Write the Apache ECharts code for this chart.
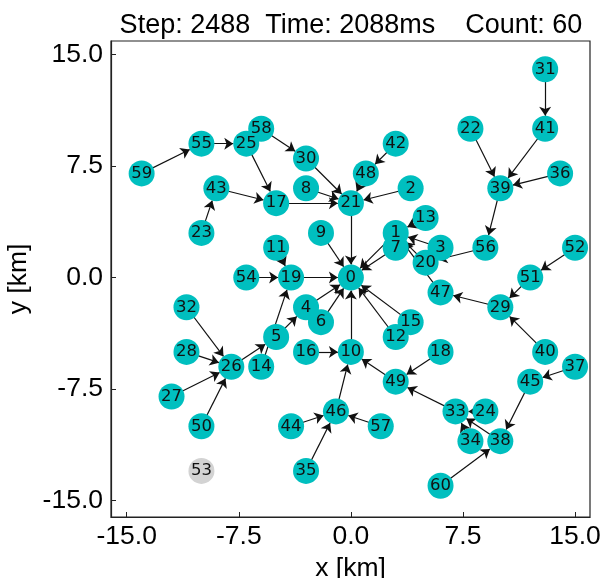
<!DOCTYPE html>
<html>
<head>
<meta charset="utf-8">
<script src="https://cdn.jsdelivr.net/npm/echarts@6/dist/echarts.min.js"></script>
<style>html,body{margin:0;padding:0;background:#fff}#c{width:603px;height:578px}</style>
</head>
<body>
<div id="c"></div>
<script>
// Node ids and positions (km)
const nodeIds = [0,1,2,3,4,5,6,7,8,9,10,11,13,14,15,12,16,17,18,19,20,21,22,23,24,26,27,28,29,30,31,32,33,34,35,36,37,38,39,40,41,42,43,44,45,46,47,48,49,50,51,52,53,54,55,56,57,58,25,59,60];
const nodeX   = [0,3,4,6,-3,-5,-2,3,-3,-2,0,-5,5,-6,4,3,-3,-5,6,-4,5,0,8,-10,9,-8,-12,-11,10,-3,13,-11,7,8,-3,14,15,10,10,13,13,3,-9,-4,12,-1,6,1,3,-10,12,15,-10,-7,-10,9,2,-6,-7,-14,6];
const nodeY   = [0,3,6,2,-2,-4,-3,2,6,3,-5,2,4,-6,-3,-4,-5,5,-5,0,1,5,10,3,-9,-6,-8,-5,-2,8,14,-2,-9,-11,-13,7,-6,-11,6,-5,10,9,6,-10,-7,-9,-1,7,-7,-10,0,2,-13,0,9,2,-10,10,9,7,-14];
const inactiveNodes = [53];
// Directed edges
const edgeSources = [59,55,25,58,30,8,43,23,17,21,48,42,2,9,11,54,19,31,41,22,36,39,56,13,3,20,47,1,7,52,51,29,40,37,45,60,38,34,24,33,18,49,10,16,46,44,35,57,15,12,4,6,5,14,26,32,28,27,50];
const edgeTargets = [55,25,17,30,21,21,17,43,21,0,21,48,21,0,19,19,0,41,39,39,39,56,20,1,1,1,1,0,0,51,29,47,29,45,38,38,33,33,33,49,49,10,0,10,10,46,46,46,0,0,0,0,4,19,5,26,26,26,26];
// Axis
const tickValues = [-15, -7.5, 0, 7.5, 15];
const titleText = 'Step: 2488  Time: 2088ms    Count: 60';

const nodes = nodeIds.map((id, i) => ({
  name: String(id),
  value: [nodeX[i], nodeY[i]],
  itemStyle: { color: inactiveNodes.includes(id) ? '#d3d3d3' : '#00bfbf' }
}));
const links = edgeSources.map((s, i) => ({ source: String(s), target: String(edgeTargets[i]) }));

const tickFont = { fontFamily: 'Liberation Sans', fontSize: 26.5, color: '#000' };
const chart = echarts.init(document.getElementById('c'), null, { renderer: 'canvas' });
chart.setOption({
  animation: false,
  backgroundColor: '#fff',
  title: {
    text: titleText,
    left: 346, top: 7, textAlign: 'center',
    textStyle: { fontFamily: 'Liberation Sans', fontSize: 27, fontWeight: 'normal', color: '#000' }
  },
  grid: { left: 111, right: 13, top: 41, bottom: 61, show: true, borderColor: '#222', borderWidth: 1.2,
          backgroundColor: 'transparent', containLabel: false, outerBoundsMode: 'none' },
  xAxis: {
    type: 'value', min: -16.05, max: 16.0,
    splitLine: { show: false },
    axisLine: { onZero: false, lineStyle: { color: '#222', width: 1.2 } },
    axisTick: { inside: true, length: 5, customValues: tickValues, lineStyle: { color: '#222' } },
    axisLabel: { customValues: tickValues, margin: 6, formatter: v => v.toFixed(1), ...tickFont },
    name: 'x [km]', nameLocation: 'middle', nameGap: 28,
    nameTextStyle: { fontFamily: 'Liberation Sans', fontSize: 26.5, color: '#000' }
  },
  yAxis: {
    type: 'value', min: -16.1, max: 15.9,
    splitLine: { show: false },
    axisLine: { onZero: false, lineStyle: { color: '#222', width: 1.2 } },
    axisTick: { inside: true, length: 5, customValues: tickValues, lineStyle: { color: '#222' } },
    axisLabel: { customValues: tickValues, margin: 8, formatter: v => v.toFixed(1), ...tickFont },
    name: 'y [km]', nameLocation: 'middle', nameGap: 66, nameRotate: 90,
    nameTextStyle: { fontFamily: 'Liberation Sans', fontSize: 26.5, color: '#000' }
  },
  series: [{
    type: 'graph',
    coordinateSystem: 'cartesian2d',
    layout: 'none',
    symbol: 'circle',
    symbolSize: 26,
    edgeSymbol: ['none', 'arrow'],
    edgeSymbolSize: [0, 9],
    data: nodes,
    links: links,
    lineStyle: { color: '#111', width: 1.2, opacity: 1, curveness: 0 },
    label: { show: true, position: 'inside', formatter: '{b}', fontFamily: 'DejaVu Sans', fontSize: 16.5, color: '#111' },
    emphasis: { disabled: true }
  }]
});
</script>
</body>
</html>
